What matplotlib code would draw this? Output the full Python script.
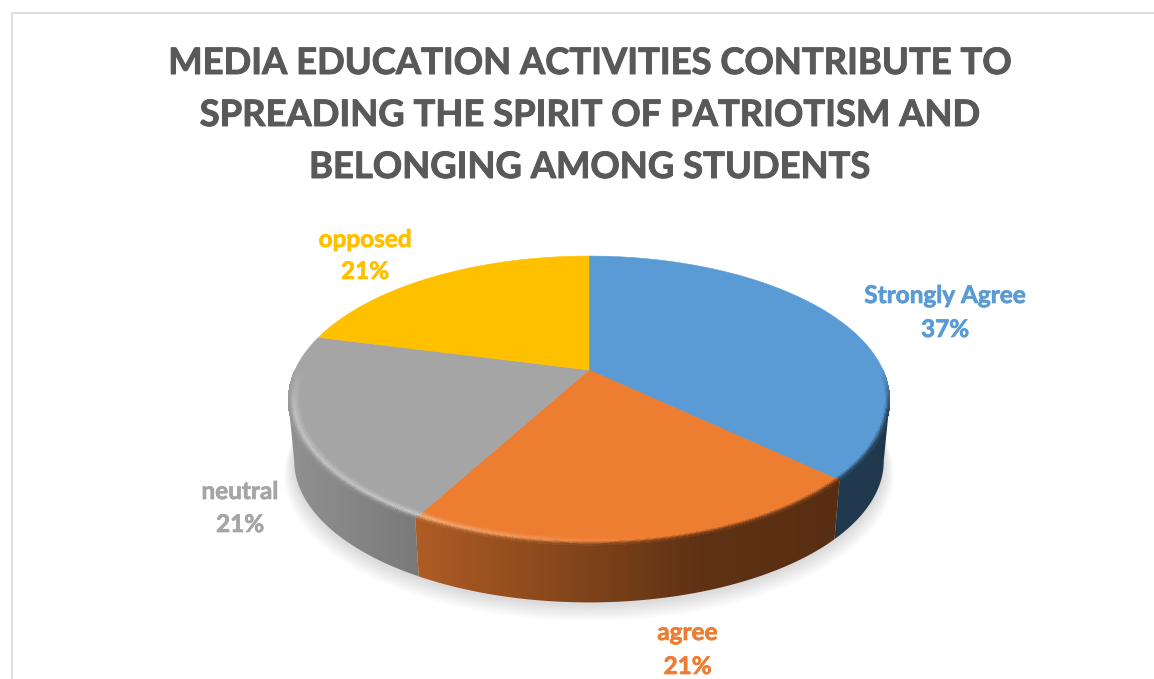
#!/usr/bin/env python3
import numpy as np
import matplotlib
matplotlib.use('Agg')
import matplotlib.pyplot as plt
import matplotlib.patheffects as pe
from matplotlib.collections import PolyCollection
from matplotlib.colors import to_rgb
from matplotlib.patches import Polygon, Rectangle

plt.rcParams['font.family'] = ['Lato', 'DejaVu Sans']

title_lines = ["MEDIA EDUCATION ACTIVITIES CONTRIBUTE TO",
               "SPREADING THE SPIRIT OF PATRIOTISM AND",
               "BELONGING AMONG STUDENTS"]
categories = ["Strongly Agree", "agree", "neutral", "opposed"]
percents = [37, 21, 21, 21]
colors = ["#5B9BD5", "#ED7D31", "#A5A5A5", "#FFC000"]

# Tilted disc, canvas measured in pixels
CX, CY = 589.0, 370.0
RX, RY = 294.0, 138.0
PERSP = 0.211
DEPTH = 61.0
BOTTOM_SCALE = 0.98


def project(theta, r=1.0, drop=0.0, scale=1.0):
    # theta runs clockwise from twelve o'clock
    u = r * np.sin(theta)
    v = r * np.cos(theta)
    w = 1 + PERSP * v
    return CX + scale * RX * u / w, CY + drop - scale * RY * v / w


def side_shade(x):
    return np.interp(x, [288, 424, 700, 890], [0.88, 0.73, 0.40, 0.36])


def highlight(x):
    return np.interp(x, [288, 424, 560, 650], [0.30, 0.34, 0.12, 0.0])


def front_weight(theta):
    return np.clip(-np.cos(theta) / 0.3, 0, 1)


fig, ax = plt.subplots(figsize=(11.54, 6.79), dpi=100)
fig.subplots_adjust(0, 0, 1, 1)
ax.axis('off')

ax.add_patch(Rectangle((11.5, 12.5), 1200, 700, fc='none', ec='#DEDEDE', lw=1.4))

# Soft shadow under the disc
full = np.linspace(0, 2 * np.pi, 361)
for k in range(12, 0, -1):
    sx, sy = project(full, drop=DEPTH + 1 + 1.0 * k, scale=BOTTOM_SCALE + 0.0028 * k)
    ax.add_patch(Polygon(np.column_stack([sx, sy]), fc='black', ec='none', alpha=0.011, zorder=1))

edges = np.cumsum([0] + percents) / sum(percents) * 2 * np.pi

# Outer wall of each slice, a horizontal gradient clipped to the slice outline.
# Only the stretch between the two tangent points of the disc can be seen.
wall_lo = np.arccos(-PERSP)
wall_hi = 2 * np.pi - wall_lo
xs = np.arange(250, 930)
for start, end, color in zip(edges[:-1], edges[1:], colors):
    a, b = max(start, wall_lo), min(end, wall_hi)
    if a >= b:
        continue
    base = np.array(to_rgb(color))
    th = np.linspace(a, b, 300)
    x1, y1 = project(th)
    x2, y2 = project(th[::-1], drop=DEPTH, scale=BOTTOM_SCALE)
    wall = Polygon(np.column_stack([np.r_[x1, x2], np.r_[y1, y2]]), fc='none', ec='none',
                   transform=ax.transData)
    ax.add_patch(wall)
    grad = (side_shade(xs)[:, None] * base)[None, :, :]
    im = ax.imshow(grad, extent=(xs[0], xs[-1] + 1, 700, 200), aspect='auto', zorder=2,
                   interpolation='bilinear')
    im.set_clip_path(wall)

# Flat top of each slice
for start, end, color in zip(edges[:-1], edges[1:], colors):
    th = np.linspace(start, end, 200)
    tx, ty = project(th)
    pts = np.vstack([[CX, CY], np.column_stack([tx, ty])])
    ax.add_patch(Polygon(pts, fc=color, ec=color, lw=0.4, zorder=3))

# Rounded rim along the front of the disc
RIM = 0.036
rings = np.linspace(1 - RIM, 1, 11)
for start, end, color in zip(edges[:-1], edges[1:], colors):
    base = np.array(to_rgb(color))
    th = np.linspace(start, end, int(np.degrees(end - start) * 2) + 2)
    quads, shades = [], []
    for a, b in zip(th[:-1], th[1:]):
        f = front_weight((a + b) / 2)
        if f <= 0:
            continue
        for r1, r2 in zip(rings[:-1], rings[1:]):
            x1, y1 = project(a, r1)
            x2, y2 = project(b, r1)
            x3, y3 = project(b, r2)
            x4, y4 = project(a, r2)
            xm = (x1 + x2) / 2
            t = ((r1 + r2) / 2 - (1 - RIM)) / RIM
            light = base + (1 - base) * highlight(xm)
            wall_c = base * side_shade(xm)
            if t < 0.55:
                c = base + (light - base) * t / 0.55
            else:
                c = light + (wall_c - light) * (t - 0.55) / 0.45
            c = base + (c - base) * f
            quads.append([(x1, y1), (x2, y2), (x3, y3), (x4, y4)])
            shades.append(np.clip(c, 0, 1))
    ax.add_collection(PolyCollection(quads, facecolors=shades, edgecolors='none',
                                     antialiaseds=False, zorder=4))

ax.set_xlim(0, 1154)
ax.set_ylim(679, 0)

# Title
for line, y in zip(title_lines, [74, 126, 178]):
    ax.text(589, y, line, ha='center', va='baseline', fontsize=26.2, fontweight='bold',
            color='#595959', path_effects=[pe.withStroke(linewidth=0.7, foreground='#595959')])

# Slice labels
label_pos = [(945, 303, 337), (687.5, 640, 674), (240, 499, 532), (365, 247, 279)]
for name, pct, color, (lx, y1, y2) in zip(categories, percents, colors, label_pos):
    heavy = [pe.withStroke(linewidth=0.5, foreground=color)]
    ax.text(lx, y1, name, ha='center', va='baseline', fontsize=17.5, fontweight='bold',
            color=color, path_effects=heavy)
    ax.text(lx, y2, f"{pct}%", ha='center', va='baseline', fontsize=17.5, fontweight='bold',
            color=color, path_effects=heavy)

plt.savefig('out.png', dpi=100)
